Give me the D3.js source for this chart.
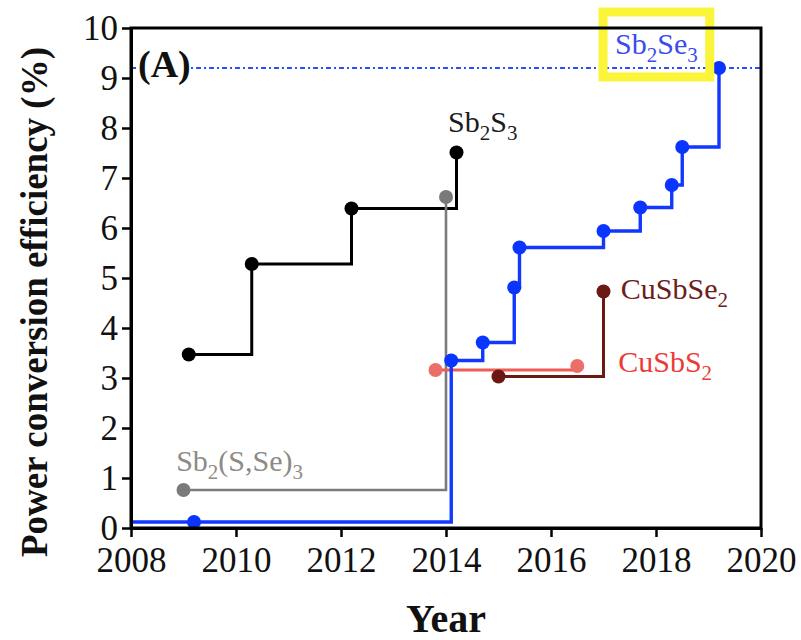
<!DOCTYPE html>
<html>
<head>
<meta charset="utf-8">
<script src="https://cdn.jsdelivr.net/npm/d3@7/dist/d3.min.js"></script>
<style>
    body { margin: 0; background: #fff; }
    svg { display: block; }
    text { font-family: "Liberation Serif", "Times New Roman", serif; }
</style>
</head>
<body>
<div id="chart"></div>
<script>
// axis ticks
const yearTicks = [2008, 2010, 2012, 2014, 2016, 2018, 2020];
const pceTicks = [0, 1, 2, 3, 4, 5, 6, 7, 8, 9, 10];

// record efficiencies per absorber (step-after curves)
const sb2s3Years = [2009.1, 2010.3, 2012.2, 2014.2];
const sb2s3Pce = [3.47, 5.28, 6.39, 7.51];

const sb2sse3Years = [2009.0, 2014.0];
const sb2sse3Pce = [0.76, 6.62];

const sb2se3Years = [2009.2, 2014.1, 2014.7, 2015.3, 2015.4, 2017.0, 2017.7, 2018.3, 2018.5, 2019.2];
const sb2se3Pce = [0.12, 3.35, 3.71, 4.81, 5.61, 5.94, 6.41, 6.86, 7.62, 9.2];

const cusbs2Years = [2013.8, 2016.5];
const cusbs2Pce = [3.16, 3.24];

const cusbse2Years = [2015.0, 2017.0];
const cusbse2Pce = [3.03, 4.73];

const recordPce = 9.2;

const SERIES = [
    { key: 'Sb2S3', years: sb2s3Years, pce: sb2s3Pce, stroke: '#000000', fill: '#000000', width: 3 },
    { key: 'Sb2(S,Se)3', years: sb2sse3Years, pce: sb2sse3Pce, stroke: '#7c7c7c', fill: '#7a7a7a', width: 2.6 },
    { key: 'CuSbS2', years: cusbs2Years, pce: cusbs2Pce, stroke: '#ee5c55', fill: '#ec6e68', width: 3 },
    { key: 'CuSbSe2', years: cusbse2Years, pce: cusbse2Pce, stroke: '#6a1a12', fill: '#6a1a12', width: 3 },
    { key: 'Sb2Se3', years: sb2se3Years, pce: sb2se3Pce, stroke: '#1238ff', fill: '#0a35ff', width: 3.4, fromStart: true }
];

// label anchors in data units (left end, baseline)
const LABELS = [
    { text: 'Sb_2S_3', year: 2014.04, pce: 7.92, color: '#1c1c1c' },
    { text: 'Sb_2Se_3', year: 2017.22, pce: 9.48, color: '#3a4cf0', boxed: true },
    { text: 'CuSbSe_2', year: 2017.33, pce: 4.58, color: '#6b2018' },
    { text: 'CuSbS_2', year: 2017.28, pce: 3.12, color: '#ee3a36' },
    { text: 'Sb_2(S,Se)_3', year: 2008.86, pce: 1.15, color: '#8e8a86' }
];

const width = 801;
const height = 640;
const margin = { top: 28, right: 40, bottom: 112, left: 131 };
const innerWidth = width - margin.left - margin.right;
const innerHeight = height - margin.top - margin.bottom;

const svg = d3.select('#chart').append('svg')
    .attr('width', width)
    .attr('height', height);

const chartGroup = svg.append('g')
    .attr('transform', `translate(${margin.left},${margin.top})`);

const xScale = d3.scaleLinear().domain([2008, 2020]).range([0, innerWidth]);
const yScale = d3.scaleLinear().domain([0, 10]).range([innerHeight, 0]);

// dotted record line
chartGroup.append('line')
    .attr('x1', 0)
    .attr('x2', innerWidth)
    .attr('y1', yScale(recordPce))
    .attr('y2', yScale(recordPce))
    .attr('stroke', '#2a4dff')
    .attr('stroke-width', 2)
    .attr('stroke-dasharray', '5,3,2,3');

const stepLine = d3.line()
    .x((d) => xScale(d.year))
    .y((d) => yScale(d.pce))
    .curve(d3.curveStepAfter);

SERIES.forEach((s) => {
    const points = s.years.map((year, i) => ({ year, pce: s.pce[i] }));
    const path = s.fromStart ? [{ year: xScale.domain()[0], pce: points[0].pce }, ...points] : points;

    chartGroup.append('path')
        .datum(path)
        .attr('fill', 'none')
        .attr('stroke', s.stroke)
        .attr('stroke-width', s.width)
        .attr('stroke-linejoin', 'miter')
        .attr('d', stepLine);

    chartGroup.selectAll(null)
        .data(points)
        .enter()
        .append('circle')
        .attr('cx', (d) => xScale(d.year))
        .attr('cy', (d) => yScale(d.pce))
        .attr('r', 7)
        .attr('fill', s.fill);
});

// formula labels with subscripts
function appendFormula(textSel, formula) {
    const parts = formula.split(/_(\d)/);
    parts.forEach((part, i) => {
        if (!part) return;
        const isSub = i % 2 === 1;
        textSel.append('tspan')
            .attr('font-size', isSub ? '0.7em' : null)
            .attr('dy', isSub ? 8 : (i > 0 && parts[i - 1] ? -8 : 0))
            .text(part);
    });
}

LABELS.forEach((label) => {
    const text = chartGroup.append('text')
        .attr('x', xScale(label.year))
        .attr('y', yScale(label.pce))
        .attr('fill', label.color)
        .attr('font-size', 30);
    appendFormula(text, label.text);

    if (label.boxed) {
        const box = text.node().getBBox();
        chartGroup.insert('rect', 'text')
            .attr('x', box.x - 12)
            .attr('y', box.y - 15)
            .attr('width', box.width + 24)
            .attr('height', box.height + 25)
            .attr('fill', 'none')
            .attr('stroke', '#fbf53a')
            .attr('stroke-width', 9);
    }
});

// panel tag with white backing over the dotted line
const tag = chartGroup.append('text')
    .attr('x', 7)
    .attr('y', yScale(9) - 1)
    .attr('font-size', 38)
    .attr('font-weight', 700)
    .attr('fill', '#111')
    .text('(A)');
const tagBox = tag.node().getBBox();
chartGroup.insert('rect', 'text')
    .attr('x', tagBox.x)
    .attr('y', tagBox.y + 6)
    .attr('width', tagBox.width)
    .attr('height', tagBox.height - 12)
    .attr('fill', '#fff');

// frame
chartGroup.append('rect')
    .attr('width', innerWidth)
    .attr('height', innerHeight)
    .attr('fill', 'none')
    .attr('stroke', '#000')
    .attr('stroke-width', 3);

chartGroup.append('g')
    .attr('transform', `translate(0,${innerHeight})`)
    .call(d3.axisBottom(xScale).tickValues(yearTicks).tickFormat(d3.format('d')).tickSize(9).tickSizeOuter(0))
    .call((g) => g.select('.domain').attr('stroke-width', 3))
    .call((g) => g.selectAll('.tick line').attr('stroke-width', 2.5))
    .call((g) => g.selectAll('.tick text')
        .attr('y', 44)
        .attr('dy', null)
        .attr('font-family', '"Liberation Serif", "Times New Roman", serif')
        .attr('font-size', 35)
        .attr('fill', '#111'));

chartGroup.append('g')
    .call(d3.axisLeft(yScale).tickValues(pceTicks).tickSize(9).tickSizeOuter(0))
    .call((g) => g.select('.domain').attr('stroke-width', 3))
    .call((g) => g.selectAll('.tick line').attr('stroke-width', 2.5))
    .call((g) => g.selectAll('.tick text')
        .attr('x', -13)
        .attr('dy', '0.32em')
        .attr('font-family', '"Liberation Serif", "Times New Roman", serif')
        .attr('font-size', 35)
        .attr('fill', '#111'));

// axis titles
svg.append('text')
    .attr('x', margin.left + innerWidth / 2)
    .attr('y', 632)
    .attr('text-anchor', 'middle')
    .attr('font-size', 40)
    .attr('font-weight', 700)
    .attr('fill', '#111')
    .text('Year');

svg.append('text')
    .attr('transform', 'translate(47,302) rotate(-90)')
    .attr('text-anchor', 'middle')
    .attr('font-size', 37)
    .attr('font-weight', 700)
    .attr('fill', '#111')
    .text('Power conversion efficiency (%)');
</script>
</body>
</html>
